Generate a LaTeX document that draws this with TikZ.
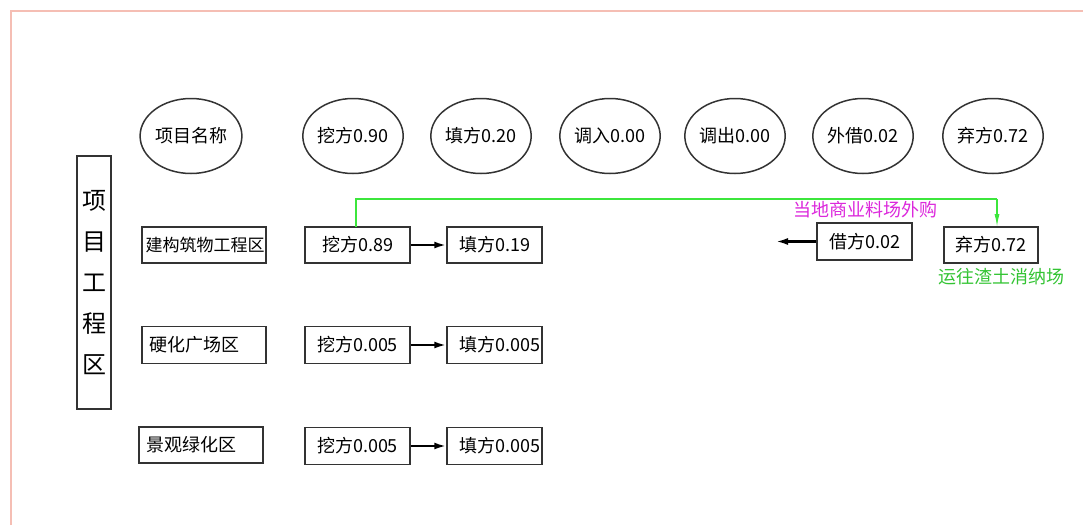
\documentclass[tikz,border=0pt]{standalone}
\usepackage{fontspec}
\setmainfont{Noto Sans CJK SC}
\usetikzlibrary{shapes.geometric,arrows.meta}
\definecolor{frame}{RGB}{245,190,180}
\definecolor{flowgreen}{RGB}{60,230,60}
\definecolor{magentatxt}{RGB}{220,40,220}
\tikzset{
  head/.style={draw=black!80, line width=1.5pt, ellipse, minimum width=88pt, minimum height=75pt, inner sep=0pt, font=\fontsize{18}{18}\selectfont},
  cell/.style={draw=black!80, line width=1.5pt, rectangle, inner sep=0pt, font=\fontsize{18}{18}\selectfont},
  flow/.style={line width=2.2pt, -{Latex[length=12pt,width=7pt]}},
  note/.style={font=\fontsize{18}{18}\selectfont, inner sep=0pt}
}
\begin{document}
\begin{tikzpicture}[x=1pt,y=-1pt]
\useasboundingbox (0,0) rectangle (1083,525);
\fill[white] (0,0) rectangle (1083,525);
\draw[frame, line width=1.5pt] (11,525) -- (11,11) -- (1083,11);
% header ellipses
\node[head] (h1) at (191,136) {项目名称};
\node[head] (h2) at (353,136) {挖方0.90};
\node[head] (h3) at (481,136) {填方0.20};
\node[head] (h4) at (610,136) {调入0.00};
\node[head] (h5) at (735,136) {调出0.00};
\node[head] (h6) at (863,136) {外借0.02};
\node[head] (h7) at (993,136) {弃方0.72};
% vertical box
\node[cell, minimum width=34pt, minimum height=253pt, font=\fontsize{24}{41}\selectfont, align=center] (v) at (94,282.5) {项\\目\\工\\程\\区};
% area boxes
\node[cell, minimum width=124pt, minimum height=36pt, font=\fontsize{17}{17}\selectfont] (a1) at (204,245) {\hspace*{2pt}建构筑物工程区};
\node[cell, minimum width=124pt, minimum height=37pt] (a2) at (204,345) {\hspace*{-20pt}硬化广场区};
\node[cell, minimum width=124pt, minimum height=36pt] (a3) at (201,445) {\hspace*{-20pt}景观绿化区};
% dig boxes
\node[cell, minimum width=105pt, minimum height=36pt] (d1) at (357.5,245) {挖方0.89};
\node[cell, minimum width=105pt, minimum height=37pt] (d2) at (357.5,345) {挖方0.005};
\node[cell, minimum width=105pt, minimum height=37pt] (d3) at (357.5,446) {挖方0.005};
% fill boxes
\node[cell, minimum width=95pt, minimum height=36pt] (f1) at (494.5,245) {填方0.19};
\node[cell, minimum width=95pt, minimum height=37pt] (f2) at (494.5,345) {\hspace*{10pt}填方0.005};
\node[cell, minimum width=95pt, minimum height=37pt] (f3) at (494.5,446) {\hspace*{10pt}填方0.005};
\draw[flow] (d1) -- (f1);
\draw[flow] (d2) -- (f2);
\draw[flow] (d3) -- (f3);
% borrow and waste
\node[cell, minimum width=95pt, minimum height=37pt] (b) at (864.5,241.5) {借方0.02};
\node[cell, minimum width=94pt, minimum height=36pt] (w) at (991,245) {弃方0.72};
\coordinate (bend) at (776,241.5);
\draw[flow] (b) -- (bend);
\coordinate (c1) at (356,199);
\coordinate (c2) at (997,199);
\draw[flowgreen, line width=1.3pt] (356,227) -- (c1) -- (c2);
\draw[flowgreen, line width=1.3pt, -{Latex[length=13pt,width=5pt]}] (c2) -- (997,227);
\node[note, text=magentatxt] (t1) at (865,210) {当地商业料场外购};
\node[note, text=flowgreen!85!black] (t2) at (1001,277) {运往渣土消纳场};
\end{tikzpicture}
\end{document}
